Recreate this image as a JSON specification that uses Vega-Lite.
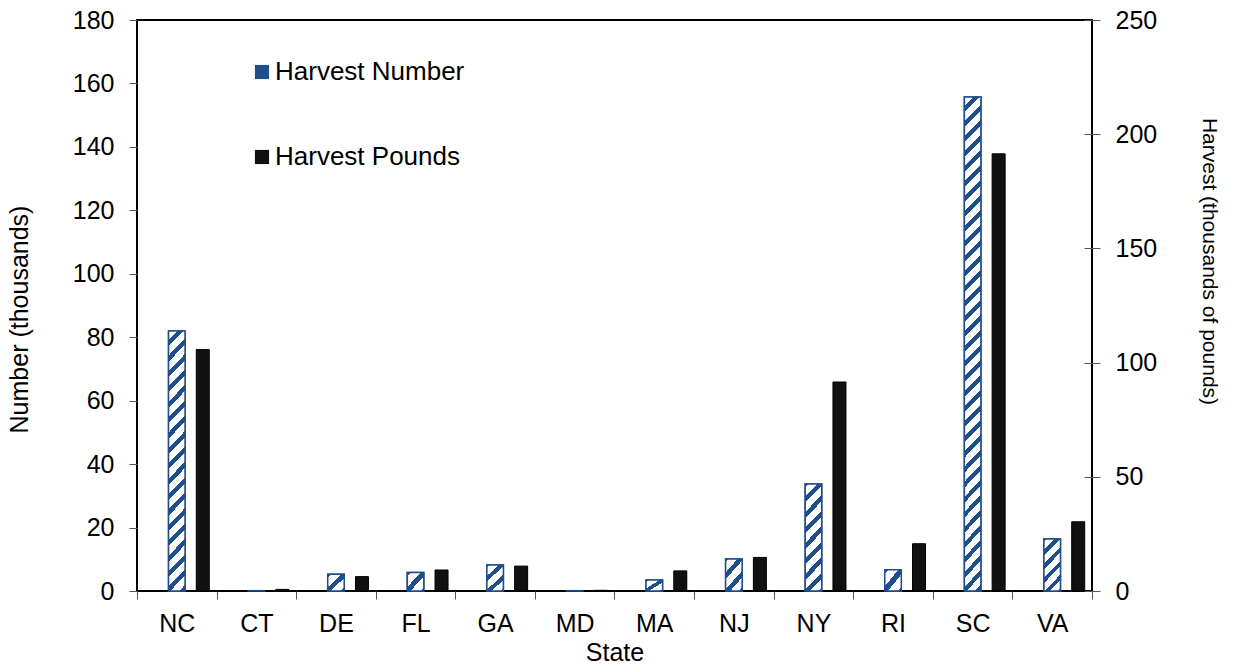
{
  "$schema": "https://vega.github.io/schema/vega-lite/v6.json",
  "width": 955,
  "height": 571,
  "autosize": {"type": "none"},
  "padding": {"left": 137, "top": 20, "right": 144, "bottom": 77},
  "background": "white",
  "config": {
    "font": "Liberation Sans",
    "view": {"stroke": "black", "strokeWidth": 2},
    "axis": {
      "grid": false,
      "domain": false,
      "labelFont": "Liberation Sans",
      "titleFont": "Liberation Sans",
      "labelFontSize": 25,
      "titleFontSize": 25,
      "titleFontWeight": "normal",
      "labelColor": "black",
      "titleColor": "black",
      "tickColor": "#555555",
      "tickWidth": 1
    }
  },
  "data": {
    "values": [
      {"State": "NC", "Number": 82.0, "Pounds": 105.7},
      {"State": "CT", "Number": 0.1, "Pounds": 0.7},
      {"State": "DE", "Number": 5.3, "Pounds": 6.3},
      {"State": "FL", "Number": 5.8, "Pounds": 9.2},
      {"State": "GA", "Number": 8.2, "Pounds": 10.9},
      {"State": "MD", "Number": 0.1, "Pounds": 0.3},
      {"State": "MA", "Number": 3.5, "Pounds": 8.8},
      {"State": "NJ", "Number": 10.1, "Pounds": 14.7},
      {"State": "NY", "Number": 33.7, "Pounds": 91.5},
      {"State": "RI", "Number": 6.7, "Pounds": 20.7},
      {"State": "SC", "Number": 155.7, "Pounds": 191.4},
      {"State": "VA", "Number": 16.4, "Pounds": 30.3}
    ]
  },
  "layer": [
    {
      "mark": {"type": "bar", "width": 16.5, "stroke": "#1f4e8c", "strokeWidth": 1.5},
      "encoding": {
        "x": {
          "field": "State", "type": "nominal", "sort": null,
          "scale": {"paddingInner": 0, "paddingOuter": 0},
          "axis": {"title": "State", "tickBand": "extent", "tickSize": 8, "labelPadding": 12, "titlePadding": 4, "labelAngle": 0}
        },
        "y": {
          "field": "Number", "type": "quantitative",
          "scale": {"domain": [0, 180], "nice": false},
          "axis": {"orient": "left", "values": [0, 20, 40, 60, 80, 100, 120, 140, 160, 180], "tickSize": 8, "labelPadding": 15, "title": "Number (thousands)", "titlePadding": 40, "titleY": 299}
        },
        "fill": {
          "datum": "Harvest Number", "type": "nominal",
          "scale": {"domain": ["Harvest Number", "Harvest Pounds"], "range": ["#1f4e8c", "#111111"]},
          "legend": {
            "orient": "none", "legendX": 112, "legendY": 39, "title": null,
            "labelFontSize": 26, "labelFont": "Liberation Sans", "labelColor": "black",
            "symbolType": "square", "symbolSize": 200, "symbolStrokeWidth": 0, "symbolOpacity": 1,
            "rowPadding": 59, "labelOffset": 0, "padding": 0, "direction": "vertical", "labelLimit": 400
          }
        }
      }
    },
    {
      "transform": [{"filter": "datum.Number > 120"}],
      "mark": {
        "type": "bar", "width": 16.5, "stroke": "#1f4e8c", "strokeWidth": 1.5,
        "fill": {
          "gradient": "linear", "x1": 0, "y1": 0, "x2": 0.0355, "y2": 1.033,
          "stops": [
            {"offset": 0, "color": "white"}, {"offset": 0.0176, "color": "white"}, {"offset": 0.0176, "color": "#1f4e8c"}, {"offset": 0.0294, "color": "#1f4e8c"},
            {"offset": 0.0294, "color": "white"}, {"offset": 0.0471, "color": "white"}, {"offset": 0.0471, "color": "#1f4e8c"}, {"offset": 0.0588, "color": "#1f4e8c"},
            {"offset": 0.0588, "color": "white"}, {"offset": 0.0765, "color": "white"}, {"offset": 0.0765, "color": "#1f4e8c"}, {"offset": 0.0882, "color": "#1f4e8c"},
            {"offset": 0.0882, "color": "white"}, {"offset": 0.1059, "color": "white"}, {"offset": 0.1059, "color": "#1f4e8c"}, {"offset": 0.1176, "color": "#1f4e8c"},
            {"offset": 0.1176, "color": "white"}, {"offset": 0.1353, "color": "white"}, {"offset": 0.1353, "color": "#1f4e8c"}, {"offset": 0.1471, "color": "#1f4e8c"},
            {"offset": 0.1471, "color": "white"}, {"offset": 0.1647, "color": "white"}, {"offset": 0.1647, "color": "#1f4e8c"}, {"offset": 0.1765, "color": "#1f4e8c"},
            {"offset": 0.1765, "color": "white"}, {"offset": 0.1941, "color": "white"}, {"offset": 0.1941, "color": "#1f4e8c"}, {"offset": 0.2059, "color": "#1f4e8c"},
            {"offset": 0.2059, "color": "white"}, {"offset": 0.2235, "color": "white"}, {"offset": 0.2235, "color": "#1f4e8c"}, {"offset": 0.2353, "color": "#1f4e8c"},
            {"offset": 0.2353, "color": "white"}, {"offset": 0.2529, "color": "white"}, {"offset": 0.2529, "color": "#1f4e8c"}, {"offset": 0.2647, "color": "#1f4e8c"},
            {"offset": 0.2647, "color": "white"}, {"offset": 0.2824, "color": "white"}, {"offset": 0.2824, "color": "#1f4e8c"}, {"offset": 0.2941, "color": "#1f4e8c"},
            {"offset": 0.2941, "color": "white"}, {"offset": 0.3118, "color": "white"}, {"offset": 0.3118, "color": "#1f4e8c"}, {"offset": 0.3235, "color": "#1f4e8c"},
            {"offset": 0.3235, "color": "white"}, {"offset": 0.3412, "color": "white"}, {"offset": 0.3412, "color": "#1f4e8c"}, {"offset": 0.3529, "color": "#1f4e8c"},
            {"offset": 0.3529, "color": "white"}, {"offset": 0.3706, "color": "white"}, {"offset": 0.3706, "color": "#1f4e8c"}, {"offset": 0.3824, "color": "#1f4e8c"},
            {"offset": 0.3824, "color": "white"}, {"offset": 0.4, "color": "white"}, {"offset": 0.4, "color": "#1f4e8c"}, {"offset": 0.4118, "color": "#1f4e8c"},
            {"offset": 0.4118, "color": "white"}, {"offset": 0.4294, "color": "white"}, {"offset": 0.4294, "color": "#1f4e8c"}, {"offset": 0.4412, "color": "#1f4e8c"},
            {"offset": 0.4412, "color": "white"}, {"offset": 0.4588, "color": "white"}, {"offset": 0.4588, "color": "#1f4e8c"}, {"offset": 0.4706, "color": "#1f4e8c"},
            {"offset": 0.4706, "color": "white"}, {"offset": 0.4882, "color": "white"}, {"offset": 0.4882, "color": "#1f4e8c"}, {"offset": 0.5, "color": "#1f4e8c"},
            {"offset": 0.5, "color": "white"}, {"offset": 0.5176, "color": "white"}, {"offset": 0.5176, "color": "#1f4e8c"}, {"offset": 0.5294, "color": "#1f4e8c"},
            {"offset": 0.5294, "color": "white"}, {"offset": 0.5471, "color": "white"}, {"offset": 0.5471, "color": "#1f4e8c"}, {"offset": 0.5588, "color": "#1f4e8c"},
            {"offset": 0.5588, "color": "white"}, {"offset": 0.5765, "color": "white"}, {"offset": 0.5765, "color": "#1f4e8c"}, {"offset": 0.5882, "color": "#1f4e8c"},
            {"offset": 0.5882, "color": "white"}, {"offset": 0.6059, "color": "white"}, {"offset": 0.6059, "color": "#1f4e8c"}, {"offset": 0.6176, "color": "#1f4e8c"},
            {"offset": 0.6176, "color": "white"}, {"offset": 0.6353, "color": "white"}, {"offset": 0.6353, "color": "#1f4e8c"}, {"offset": 0.6471, "color": "#1f4e8c"},
            {"offset": 0.6471, "color": "white"}, {"offset": 0.6647, "color": "white"}, {"offset": 0.6647, "color": "#1f4e8c"}, {"offset": 0.6765, "color": "#1f4e8c"},
            {"offset": 0.6765, "color": "white"}, {"offset": 0.6941, "color": "white"}, {"offset": 0.6941, "color": "#1f4e8c"}, {"offset": 0.7059, "color": "#1f4e8c"},
            {"offset": 0.7059, "color": "white"}, {"offset": 0.7235, "color": "white"}, {"offset": 0.7235, "color": "#1f4e8c"}, {"offset": 0.7353, "color": "#1f4e8c"},
            {"offset": 0.7353, "color": "white"}, {"offset": 0.7529, "color": "white"}, {"offset": 0.7529, "color": "#1f4e8c"}, {"offset": 0.7647, "color": "#1f4e8c"},
            {"offset": 0.7647, "color": "white"}, {"offset": 0.7824, "color": "white"}, {"offset": 0.7824, "color": "#1f4e8c"}, {"offset": 0.7941, "color": "#1f4e8c"},
            {"offset": 0.7941, "color": "white"}, {"offset": 0.8118, "color": "white"}, {"offset": 0.8118, "color": "#1f4e8c"}, {"offset": 0.8235, "color": "#1f4e8c"},
            {"offset": 0.8235, "color": "white"}, {"offset": 0.8412, "color": "white"}, {"offset": 0.8412, "color": "#1f4e8c"}, {"offset": 0.8529, "color": "#1f4e8c"},
            {"offset": 0.8529, "color": "white"}, {"offset": 0.8706, "color": "white"}, {"offset": 0.8706, "color": "#1f4e8c"}, {"offset": 0.8824, "color": "#1f4e8c"},
            {"offset": 0.8824, "color": "white"}, {"offset": 0.9, "color": "white"}, {"offset": 0.9, "color": "#1f4e8c"}, {"offset": 0.9118, "color": "#1f4e8c"},
            {"offset": 0.9118, "color": "white"}, {"offset": 0.9294, "color": "white"}, {"offset": 0.9294, "color": "#1f4e8c"}, {"offset": 0.9412, "color": "#1f4e8c"},
            {"offset": 0.9412, "color": "white"}, {"offset": 0.9588, "color": "white"}, {"offset": 0.9588, "color": "#1f4e8c"}, {"offset": 0.9706, "color": "#1f4e8c"},
            {"offset": 0.9706, "color": "white"}, {"offset": 0.9882, "color": "white"}, {"offset": 0.9882, "color": "#1f4e8c"}, {"offset": 1, "color": "#1f4e8c"}
          ]
        }
      },
      "encoding": {
        "x": {"field": "State", "type": "nominal", "sort": null},
        "y": {"field": "Number", "type": "quantitative", "scale": {"domain": [0, 180], "nice": false}, "axis": null}
      }
    },
    {
      "transform": [{"filter": "datum.Number > 60 && datum.Number <= 120"}],
      "mark": {
        "type": "bar", "width": 16.5, "stroke": "#1f4e8c", "strokeWidth": 1.5,
        "fill": {
          "gradient": "linear", "x1": 0, "y1": 0, "x2": 0.0694, "y2": 1.061,
          "stops": [
            {"offset": 0, "color": "white"}, {"offset": 0.0333, "color": "white"}, {"offset": 0.0333, "color": "#1f4e8c"}, {"offset": 0.0556, "color": "#1f4e8c"},
            {"offset": 0.0556, "color": "white"}, {"offset": 0.0889, "color": "white"}, {"offset": 0.0889, "color": "#1f4e8c"}, {"offset": 0.1111, "color": "#1f4e8c"},
            {"offset": 0.1111, "color": "white"}, {"offset": 0.1444, "color": "white"}, {"offset": 0.1444, "color": "#1f4e8c"}, {"offset": 0.1667, "color": "#1f4e8c"},
            {"offset": 0.1667, "color": "white"}, {"offset": 0.2, "color": "white"}, {"offset": 0.2, "color": "#1f4e8c"}, {"offset": 0.2222, "color": "#1f4e8c"},
            {"offset": 0.2222, "color": "white"}, {"offset": 0.2556, "color": "white"}, {"offset": 0.2556, "color": "#1f4e8c"}, {"offset": 0.2778, "color": "#1f4e8c"},
            {"offset": 0.2778, "color": "white"}, {"offset": 0.3111, "color": "white"}, {"offset": 0.3111, "color": "#1f4e8c"}, {"offset": 0.3333, "color": "#1f4e8c"},
            {"offset": 0.3333, "color": "white"}, {"offset": 0.3667, "color": "white"}, {"offset": 0.3667, "color": "#1f4e8c"}, {"offset": 0.3889, "color": "#1f4e8c"},
            {"offset": 0.3889, "color": "white"}, {"offset": 0.4222, "color": "white"}, {"offset": 0.4222, "color": "#1f4e8c"}, {"offset": 0.4444, "color": "#1f4e8c"},
            {"offset": 0.4444, "color": "white"}, {"offset": 0.4778, "color": "white"}, {"offset": 0.4778, "color": "#1f4e8c"}, {"offset": 0.5, "color": "#1f4e8c"},
            {"offset": 0.5, "color": "white"}, {"offset": 0.5333, "color": "white"}, {"offset": 0.5333, "color": "#1f4e8c"}, {"offset": 0.5556, "color": "#1f4e8c"},
            {"offset": 0.5556, "color": "white"}, {"offset": 0.5889, "color": "white"}, {"offset": 0.5889, "color": "#1f4e8c"}, {"offset": 0.6111, "color": "#1f4e8c"},
            {"offset": 0.6111, "color": "white"}, {"offset": 0.6444, "color": "white"}, {"offset": 0.6444, "color": "#1f4e8c"}, {"offset": 0.6667, "color": "#1f4e8c"},
            {"offset": 0.6667, "color": "white"}, {"offset": 0.7, "color": "white"}, {"offset": 0.7, "color": "#1f4e8c"}, {"offset": 0.7222, "color": "#1f4e8c"},
            {"offset": 0.7222, "color": "white"}, {"offset": 0.7556, "color": "white"}, {"offset": 0.7556, "color": "#1f4e8c"}, {"offset": 0.7778, "color": "#1f4e8c"},
            {"offset": 0.7778, "color": "white"}, {"offset": 0.8111, "color": "white"}, {"offset": 0.8111, "color": "#1f4e8c"}, {"offset": 0.8333, "color": "#1f4e8c"},
            {"offset": 0.8333, "color": "white"}, {"offset": 0.8667, "color": "white"}, {"offset": 0.8667, "color": "#1f4e8c"}, {"offset": 0.8889, "color": "#1f4e8c"},
            {"offset": 0.8889, "color": "white"}, {"offset": 0.9222, "color": "white"}, {"offset": 0.9222, "color": "#1f4e8c"}, {"offset": 0.9444, "color": "#1f4e8c"},
            {"offset": 0.9444, "color": "white"}, {"offset": 0.9778, "color": "white"}, {"offset": 0.9778, "color": "#1f4e8c"}, {"offset": 1, "color": "#1f4e8c"}
          ]
        }
      },
      "encoding": {
        "x": {"field": "State", "type": "nominal", "sort": null},
        "y": {"field": "Number", "type": "quantitative", "scale": {"domain": [0, 180], "nice": false}, "axis": null}
      }
    },
    {
      "transform": [{"filter": "datum.Number > 20 && datum.Number <= 60"}],
      "mark": {
        "type": "bar", "width": 16.5, "stroke": "#1f4e8c", "strokeWidth": 1.5,
        "fill": {
          "gradient": "linear", "x1": 0, "y1": 0, "x2": 0.1797, "y2": 1.13,
          "stops": [
            {"offset": 0, "color": "#1f4e8c"}, {"offset": 0.025, "color": "#1f4e8c"}, {"offset": 0.025, "color": "white"}, {"offset": 0.1, "color": "white"}, {"offset": 0.1, "color": "#1f4e8c"},
            {"offset": 0.15, "color": "#1f4e8c"}, {"offset": 0.15, "color": "white"}, {"offset": 0.225, "color": "white"}, {"offset": 0.225, "color": "#1f4e8c"},
            {"offset": 0.275, "color": "#1f4e8c"}, {"offset": 0.275, "color": "white"}, {"offset": 0.35, "color": "white"}, {"offset": 0.35, "color": "#1f4e8c"},
            {"offset": 0.4, "color": "#1f4e8c"}, {"offset": 0.4, "color": "white"}, {"offset": 0.475, "color": "white"}, {"offset": 0.475, "color": "#1f4e8c"},
            {"offset": 0.525, "color": "#1f4e8c"}, {"offset": 0.525, "color": "white"}, {"offset": 0.6, "color": "white"}, {"offset": 0.6, "color": "#1f4e8c"},
            {"offset": 0.65, "color": "#1f4e8c"}, {"offset": 0.65, "color": "white"}, {"offset": 0.725, "color": "white"}, {"offset": 0.725, "color": "#1f4e8c"},
            {"offset": 0.775, "color": "#1f4e8c"}, {"offset": 0.775, "color": "white"}, {"offset": 0.85, "color": "white"}, {"offset": 0.85, "color": "#1f4e8c"},
            {"offset": 0.9, "color": "#1f4e8c"}, {"offset": 0.9, "color": "white"}, {"offset": 0.975, "color": "white"}, {"offset": 0.975, "color": "#1f4e8c"},
            {"offset": 1, "color": "#1f4e8c"}
          ]
        }
      },
      "encoding": {
        "x": {"field": "State", "type": "nominal", "sort": null},
        "y": {"field": "Number", "type": "quantitative", "scale": {"domain": [0, 180], "nice": false}, "axis": null}
      }
    },
    {
      "transform": [{"filter": "datum.Number > 12 && datum.Number <= 20"}],
      "mark": {
        "type": "bar", "width": 16.5, "stroke": "#1f4e8c", "strokeWidth": 1.5,
        "fill": {
          "gradient": "linear", "x1": 0, "y1": 0, "x2": 0.392, "y2": 1.199,
          "stops": [
            {"offset": 0, "color": "#1f4e8c"}, {"offset": 0.04, "color": "#1f4e8c"}, {"offset": 0.04, "color": "white"}, {"offset": 0.16, "color": "white"}, {"offset": 0.16, "color": "#1f4e8c"},
            {"offset": 0.24, "color": "#1f4e8c"}, {"offset": 0.24, "color": "white"}, {"offset": 0.36, "color": "white"}, {"offset": 0.36, "color": "#1f4e8c"},
            {"offset": 0.44, "color": "#1f4e8c"}, {"offset": 0.44, "color": "white"}, {"offset": 0.56, "color": "white"}, {"offset": 0.56, "color": "#1f4e8c"},
            {"offset": 0.64, "color": "#1f4e8c"}, {"offset": 0.64, "color": "white"}, {"offset": 0.76, "color": "white"}, {"offset": 0.76, "color": "#1f4e8c"},
            {"offset": 0.84, "color": "#1f4e8c"}, {"offset": 0.84, "color": "white"}, {"offset": 0.96, "color": "white"}, {"offset": 0.96, "color": "#1f4e8c"},
            {"offset": 1, "color": "#1f4e8c"}
          ]
        }
      },
      "encoding": {
        "x": {"field": "State", "type": "nominal", "sort": null},
        "y": {"field": "Number", "type": "quantitative", "scale": {"domain": [0, 180], "nice": false}, "axis": null}
      }
    },
    {
      "transform": [{"filter": "datum.Number > 7.5 && datum.Number <= 12"}],
      "mark": {
        "type": "bar", "width": 16.5, "stroke": "#1f4e8c", "strokeWidth": 1.5,
        "fill": {
          "gradient": "linear", "x1": 0, "y1": 0, "x2": 0.692, "y2": 1.181,
          "stops": [
            {"offset": 0, "color": "#1f4e8c"}, {"offset": 0.0667, "color": "#1f4e8c"}, {"offset": 0.0667, "color": "white"}, {"offset": 0.2667, "color": "white"}, {"offset": 0.2667, "color": "#1f4e8c"},
            {"offset": 0.4, "color": "#1f4e8c"}, {"offset": 0.4, "color": "white"}, {"offset": 0.6, "color": "white"}, {"offset": 0.6, "color": "#1f4e8c"},
            {"offset": 0.7333, "color": "#1f4e8c"}, {"offset": 0.7333, "color": "white"}, {"offset": 0.9333, "color": "white"}, {"offset": 0.9333, "color": "#1f4e8c"},
            {"offset": 1, "color": "#1f4e8c"}
          ]
        }
      },
      "encoding": {
        "x": {"field": "State", "type": "nominal", "sort": null},
        "y": {"field": "Number", "type": "quantitative", "scale": {"domain": [0, 180], "nice": false}, "axis": null}
      }
    },
    {
      "transform": [{"filter": "datum.Number > 2 && datum.Number <= 7.5"}],
      "mark": {
        "type": "bar", "width": 16.5, "stroke": "#1f4e8c", "strokeWidth": 1.5,
        "fill": {
          "gradient": "linear", "x1": 0, "y1": 0, "x2": 0.968, "y2": 1.03,
          "stops": [
            {"offset": 0, "color": "#1f4e8c"}, {"offset": 0.1, "color": "#1f4e8c"}, {"offset": 0.1, "color": "white"}, {"offset": 0.4, "color": "white"}, {"offset": 0.4, "color": "#1f4e8c"},
            {"offset": 0.6, "color": "#1f4e8c"}, {"offset": 0.6, "color": "white"}, {"offset": 0.9, "color": "white"}, {"offset": 0.9, "color": "#1f4e8c"},
            {"offset": 1, "color": "#1f4e8c"}
          ]
        }
      },
      "encoding": {
        "x": {"field": "State", "type": "nominal", "sort": null},
        "y": {"field": "Number", "type": "quantitative", "scale": {"domain": [0, 180], "nice": false}, "axis": null}
      }
    },
    {
      "mark": {"type": "bar", "width": 13, "stroke": "#000000", "strokeWidth": 1, "xOffset": 26},
      "encoding": {
        "x": {"field": "State", "type": "nominal", "sort": null},
        "y": {
          "field": "Pounds", "type": "quantitative",
          "scale": {"domain": [0, 250], "nice": false},
          "axis": {"orient": "right", "values": [0, 50, 100, 150, 200, 250], "offset": -8, "tickSize": 16, "labelPadding": 15, "title": "Harvest (thousands of pounds)", "titleFontSize": 21, "titlePadding": 42, "titleY": 241}
        },
        "fill": {"datum": "Harvest Pounds", "type": "nominal"}
      }
    }
  ],
  "resolve": {"scale": {"y": "independent"}}
}
